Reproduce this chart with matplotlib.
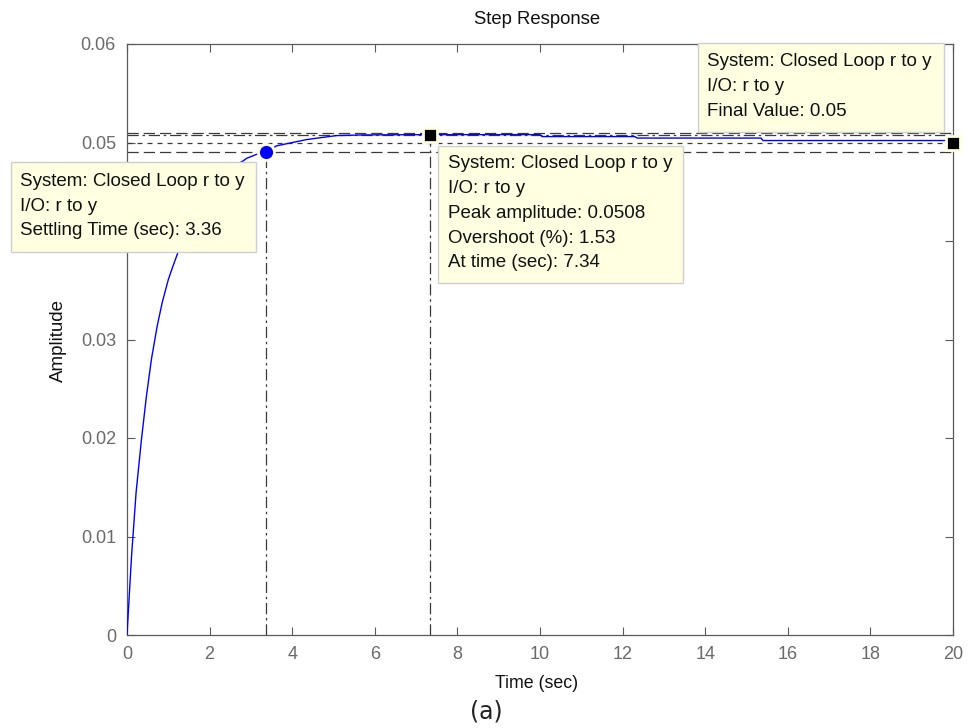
import matplotlib
matplotlib.use("Agg")
import matplotlib.pyplot as plt
from matplotlib.patches import Rectangle

# Closed-loop step response samples (time in s, amplitude)
time_s = [0, 0.11, 0.22, 0.35, 0.47, 0.59, 0.73, 0.85, 1.0, 1.1, 1.23,
          1.5, 1.8, 2.1, 2.4, 2.8, 2.9, 3.14, 3.36, 3.62, 4.35, 5.07, 5.7,
          7.34, 10.0, 10.05, 12.3, 12.35, 15.35, 15.4, 20.0]
amplitude = [0, 0.0080, 0.01447, 0.01985, 0.02424, 0.02796, 0.03134, 0.03371,
             0.03608, 0.0373, 0.0388, 0.0421, 0.0445, 0.0461, 0.0472, 0.0481,
             0.0484, 0.0488, 0.0490, 0.04966, 0.0503, 0.0507, 0.05077,
             0.0508, 0.0508, 0.0506, 0.0506, 0.05045, 0.05045, 0.0502, 0.0502]

settling_time = 3.36
settling_value = 0.049
peak_time = 7.34
peak_value = 0.0508
overshoot_pct = 1.53
final_time = 20.0
final_value = 0.05
band_low, band_high = 0.049, 0.051

x_ticks = [0, 2, 4, 6, 8, 10, 12, 14, 16, 18, 20]
x_tick_labels = ["0", "2", "4", "6", "8", "10", "12", "14", "16", "18", "20"]
y_ticks = [0, 0.01, 0.02, 0.03, 0.04, 0.05, 0.06]
y_tick_labels = ["0", "0.01", "0.02", "0.03", "0.04", "0.05", "0.06"]

W, H = 968, 728
fig = plt.figure(figsize=(W / 100, H / 100), dpi=100)
fig.patch.set_facecolor("white")
ax = fig.add_axes([127 / W, 1 - 635 / H, (953 - 127) / W, (635 - 44) / H])

FONT = "Liberation Sans"
AXIS_GRAY = "#5a5a5a"
TICK_GRAY = "#6a6a6a"
REF = "#3a3a3a"

ax.set_xlim(0, 20)
ax.set_ylim(0, 0.06)

# Reference lines: settling band, final value, peak marker guides
ax.plot([0, 20], [band_high, band_high], color=REF, lw=0.9, dashes=(9, 4))
ax.plot([0, 20], [band_low, band_low], color=REF, lw=0.9, dashes=(9, 4))
ax.plot([0, 20], [final_value, final_value], color=REF, lw=0.9, dashes=(4, 4))
ax.plot([0, 20], [peak_value, peak_value], color=REF, lw=0.9, dashes=(9, 3, 2, 3))
ax.plot([settling_time, settling_time], [0, settling_value], color=REF, lw=0.9,
        dashes=(9, 3, 2, 3))
ax.plot([peak_time, peak_time], [0, peak_value], color=REF, lw=0.9,
        dashes=(9, 3, 2, 3))

# Response curve
ax.plot(time_s, amplitude, color="#0000ff", lw=1.0, zorder=3)

# Characteristic point markers
ax.plot([settling_time], [settling_value], "o", ms=11.5, mfc="#0000ff",
        mec="#ffffe1", mew=2, zorder=6, clip_on=False)
ax.plot([peak_time], [peak_value], "s", ms=10, mfc="black",
        mec="#ffffe1", mew=2, zorder=6, clip_on=False)
ax.plot([final_time], [final_value], "s", ms=10, mfc="black",
        mec="#ffffe1", mew=2, zorder=6, clip_on=False)

ax.set_xticks(x_ticks)
ax.set_xticklabels(x_tick_labels)
ax.set_yticks(y_ticks)
ax.set_yticklabels(y_tick_labels)
ax.tick_params(direction="in", length=6, width=0.8, color=AXIS_GRAY,
               top=True, right=True, labelsize=13, labelcolor=TICK_GRAY, pad=8)
for lab in ax.get_xticklabels() + ax.get_yticklabels():
    lab.set_fontfamily(FONT)
for s in ax.spines.values():
    s.set_color(AXIS_GRAY)
    s.set_linewidth(0.9)

fig.text(537 / W, 1 - 20 / H, "Step Response", ha="center", va="center",
         fontsize=13.3, family=FONT, color="#111111")
fig.text(537 / W, 1 - 683 / H, "Time (sec)", ha="center", va="center",
         fontsize=12.8, family=FONT, color="#111111")
fig.text(58 / W, 1 - 340 / H, "Amplitude", ha="center", va="center",
         rotation=90, fontsize=13.5, family=FONT, color="#111111")
fig.text(486 / W, 1 - 712 / H, "(a)", ha="center", va="center",
         fontsize=17, family="DejaVu Sans", color="#222222")


def data_tip(x0, y0, x1, y1, lines, tx, ty0, dy=25):
    """Draw a data-tip box given pixel extents measured from the top-left."""
    rect = Rectangle((x0 / W, 1 - y1 / H), (x1 - x0) / W, (y1 - y0) / H,
                     transform=fig.transFigure, facecolor="#ffffe1",
                     edgecolor="#cfcfcf", lw=1.0, zorder=10)
    fig.patches.append(rect)
    for i, line in enumerate(lines):
        fig.text(tx / W, 1 - (ty0 + i * dy) / H, line, ha="left", va="center",
                 fontsize=13.5, family=FONT, color="#111111", zorder=11)


data_tip(10.7, 161.7, 256, 251.7,
         ["System: Closed Loop r to y", "I/O: r to y",
          f"Settling Time (sec): {settling_time:.2f}"],
         20, 182, dy=24.2)
data_tip(438.3, 146, 683, 283,
         ["System: Closed Loop r to y", "I/O: r to y",
          f"Peak amplitude: {peak_value:.4f}",
          f"Overshoot (%): {overshoot_pct:.2f}",
          f"At time (sec): {peak_time:.2f}"],
         448, 164, dy=24.7)
data_tip(698, 43, 944, 132,
         ["System: Closed Loop r to y", "I/O: r to y",
          f"Final Value: {final_value:.2f}"],
         707, 62, dy=24.5)

fig.savefig("out.png", dpi=100)
